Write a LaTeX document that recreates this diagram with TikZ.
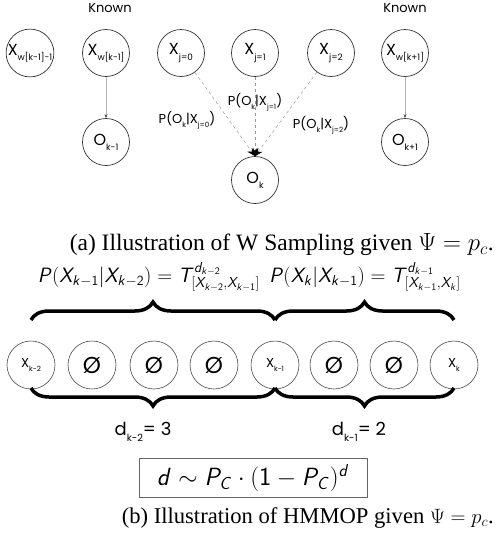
\documentclass[tikz,border=0pt]{standalone}
\usepackage{fontspec}
\setmainfont{Liberation Serif}
\newfontfamily\gothfont{Poppins}
\usetikzlibrary{arrows.meta,decorations.pathreplacing}
\DeclareMathAlphabet{\mathsi}{OT1}{cmss}{m}{sl}
\newcommand{\lowsub}[1]{\raisebox{-0.6ex}{\scalebox{0.55}{#1}}}
\newcommand{\sv}[1]{\mathsi{#1}}

\begin{document}
\begin{tikzpicture}[
    x=1pt, y=-1pt,
    >=Stealth,
    font=\gothfont,
    var/.style={
        draw=black!80,
        circle,
        line width=0.7pt,
        minimum size=47pt,
        inner sep=0pt,
        font=\gothfont\fontsize{16}{16}\selectfont
    },
    seq/.style={
        draw=black!70,
        circle,
        line width=0.6pt,
        minimum size=48pt,
        inner sep=0pt,
        font=\gothfont\fontsize{13}{13}\selectfont
    },
    empty/.style={seq, font=\gothfont\fontsize{23}{23}\selectfont},
    emit/.style={-{Stealth[black!70,length=4pt,width=3pt]}, draw=black!30, line width=0.5pt},
    cand/.style={-{Stealth[black,length=8pt,width=7pt]}, draw=black!40, dashed, line width=0.5pt},
    plabel/.style={font=\gothfont\fontsize{13}{13}\selectfont},
    brc/.style={decorate, decoration={brace, amplitude=18pt}, line width=3.5pt},
    caption/.style={anchor=east, inner sep=1pt, font=\fontsize{22.6}{26}\selectfont}
]
\useasboundingbox (0,0) rectangle (496,544);

% (a) W sampling
\node[plabel] (known1) at (110,8) {Known};
\node[plabel] (known2) at (405,8) {Known};

\node[var] (xw0) at (30,53) {X\lowsub{w[k-1]-1}};
\node[var] (xw1) at (106,53) {X\lowsub{w[k-1]}};
\node[var] (xj0) at (181,53) {X\lowsub{j=0}};
\node[var] (xj1) at (255,53) {X\lowsub{j=1}};
\node[var] (xj2) at (331,53) {X\lowsub{j=2}};
\node[var] (xw2) at (405,53) {X\lowsub{w[k+1]}};

\node[var] (ok1) at (106,142) {O\lowsub{k-1}};
\node[var] (ok) at (255,180) {O\lowsub{k}};
\node[var] (ok2) at (405,142) {O\lowsub{k+1}};

\draw[emit] (xw1) -- (ok1);
\draw[emit] (xw2) -- (ok2);
\draw[cand] (xj0) -- (ok.north);
\draw[cand] (xj1) -- (ok.north);
\draw[cand] (xj2) -- (ok.north);

\node[plabel] (p0) at (187,120) {P(O\lowsub{k}|X\lowsub{j=0})};
\node[plabel] (p1) at (255,102) {P(O\lowsub{k}|X\lowsub{j=1})};
\node[plabel] (p2) at (321,125) {P(O\lowsub{k}|X\lowsub{j=2})};

\node[caption, font=\fontsize{23.5}{26}\selectfont] (capa) at (495,245) {(a) Illustration of W Sampling given $\Psi = p_c$.};

% (b) HMMOP
\node[font=\fontsize{19.8}{19.8}\selectfont] (tr1) at (149,277)
    {$\sv{P}(\sv{X}_{\sv{k}-\mathsf{1}}|\sv{X}_{\sv{k}-\mathsf{2}}) = \sv{T}^{\sv{d}_{\sv{k}-\mathsf{2}}}_{[\sv{X}_{\sv{k}-\mathsf{2}},\sv{X}_{\sv{k}-\mathsf{1}}]}$};
\node[font=\fontsize{19.8}{19.8}\selectfont] (tr2) at (365,277)
    {$\sv{P}(\sv{X}_{\sv{k}}|\sv{X}_{\sv{k}-\mathsf{1}}) = \sv{T}^{\sv{d}_{\sv{k}-\mathsf{1}}}_{[\sv{X}_{\sv{k}-\mathsf{1}},\sv{X}_{\sv{k}}]}$};

\node[seq] (s1) at (31,365) {X\lowsub{k-2}};
\node[empty] (s2) at (92,365) {Ø};
\node[empty] (s3) at (154,365) {Ø};
\node[empty] (s4) at (214,365) {Ø};
\node[seq] (s5) at (275,365) {X\lowsub{k-1}};
\node[empty] (s6) at (334,365) {Ø};
\node[empty] (s7) at (394,365) {Ø};
\node[seq] (s8) at (454,365) {X\lowsub{k}};

\draw[brc] ([yshift=45pt]s1.center) -- ([yshift=45pt]s5.center);
\draw[brc] ([yshift=45pt]s5.center) -- ([yshift=45pt]s8.center);
\draw[brc] ([yshift=-23pt]s5.center) -- ([yshift=-23pt]s1.center);
\draw[brc] ([yshift=-23pt]s8.center) -- ([yshift=-23pt]s5.center);

\node[font=\gothfont\fontsize{18}{18}\selectfont] (dk2) at (143,432) {d\lowsub{k-2}= 3};
\node[font=\gothfont\fontsize{18}{18}\selectfont] (dk1) at (359,432) {d\lowsub{k-1}= 2};

\node[draw=black!60, line width=0.7pt, minimum width=228pt, minimum height=39pt,
      font=\fontsize{26}{26}\selectfont] (geo) at (253,478)
    {$\sv{d} \sim \sv{P}_{\sv{C}} \cdot (\mathsf{1} - \sv{P}_{\sv{C}})^{\sv{d}}$};

\node[caption] (capb) at (495,518) {(b) Illustration of HMMOP given $\Psi = p_c$.};
\end{tikzpicture}
\end{document}
